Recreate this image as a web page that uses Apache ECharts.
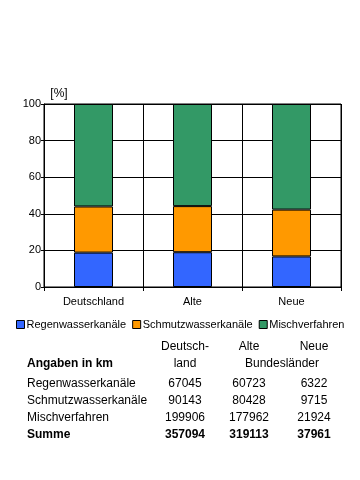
<!DOCTYPE html>
<html><head><meta charset="utf-8">
<script src="https://cdn.jsdelivr.net/npm/echarts@6/dist/echarts.min.js"></script>
<style>html,body{margin:0;padding:0;background:#fff}#c{width:360px;height:480px}</style>
</head><body><div id="c"></div>
<script>
const categories = ['Deutschland', 'Alte', 'Neue'];
const seriesNames = ['Regenwasserkanäle', 'Schmutzwasserkanäle', 'Mischverfahren'];
const regenPct = [18.8, 19.0, 16.7];
const schmutzPct = [25.2, 25.2, 25.6];
const mischPct = [56.0, 55.8, 57.7];
const colors = ['#3366FF', '#FF9900', '#339966'];
const tableTitle = 'Angaben in km';
const tableHead1 = ['Deutsch-', 'Alte', 'Neue'];
const tableHead2 = ['land', 'Bundesländer'];
const tableRows = ['Regenwasserkanäle', 'Schmutzwasserkanäle', 'Mischverfahren', 'Summe'];
const kmDeutschland = ['67045', '90143', '199906', '357094'];
const kmAlte = ['60723', '80428', '177962', '319113'];
const kmNeue = ['6322', '9715', '21924', '37961'];

const FONT = '"Liberation Sans", Arial, sans-serif';
const chart = echarts.init(document.getElementById('c'), null, {renderer: 'canvas'});
const values = [regenPct, schmutzPct, mischPct];

const graphics = [];
function txt(x, y, s, align, bold) {
  graphics.push({type: 'text', x: x, y: y, style: {
    text: s, x: 0, y: 0, textAlign: align, textVerticalAlign: 'middle',
    font: (bold ? 'bold ' : '') + '12px ' + FONT, fill: '#000'}});
}
txt(59, 94, '[%]', 'center', false);
const colX = [185, 249, 314];
txt(colX[0], 347, tableHead1[0], 'center');
txt(colX[1], 347, tableHead1[1], 'center');
txt(colX[2], 347, tableHead1[2], 'center');
txt(colX[0], 364, tableHead2[0], 'center');
txt(282, 364, tableHead2[1], 'center');
txt(27, 364, tableTitle, 'left', true);
const rowY = [384, 401, 418, 435];
const cols = [kmDeutschland, kmAlte, kmNeue];
tableRows.forEach((r, i) => {
  const bold = i === tableRows.length - 1;
  txt(27, rowY[i], r, 'left', bold);
  cols.forEach((c, j) => txt(colX[j], rowY[i], c[i], 'center', bold));
});

chart.setOption({
  animation: false,
  backgroundColor: '#fff',
  textStyle: {fontFamily: FONT},
  grid: {left: 44, right: 19, top: 104, bottom: 193, show: true, borderColor: '#000', borderWidth: 1, backgroundColor: 'transparent'},
  legend: {
    data: seriesNames, top: 319, left: 16, padding: 0, width: 344,
    itemWidth: 8, itemHeight: 8, itemGap: 6,
    icon: 'rect', itemStyle: {borderColor: '#000', borderWidth: 1},
    textStyle: {fontSize: 11, color: '#000', fontFamily: FONT, padding: [0, 0, 0, -3]}
  },
  xAxis: {
    type: 'category', data: categories,
    axisLine: {lineStyle: {color: '#000', width: 1}},
    axisTick: {show: true, length: 4, lineStyle: {color: '#000'}},
    splitLine: {show: true, lineStyle: {color: '#000', width: 1}},
    axisLabel: {color: '#000', fontSize: 11, margin: 9, fontFamily: FONT}
  },
  yAxis: {
    type: 'value', min: 0, max: 100, interval: 20,
    axisLine: {show: true, lineStyle: {color: '#000'}},
    axisTick: {show: true, length: 3, lineStyle: {color: '#000'}},
    splitLine: {show: true, lineStyle: {color: '#000', width: 1}},
    axisLabel: {color: '#000', fontSize: 11, margin: 3, fontFamily: FONT}
  },
  series: seriesNames.map((n, i) => ({
    name: n, type: 'bar', stack: 'a', data: values[i], barWidth: 39,
    itemStyle: {color: colors[i], borderColor: '#000', borderWidth: 1}
  })),
  graphic: graphics
});
</script></body></html>
